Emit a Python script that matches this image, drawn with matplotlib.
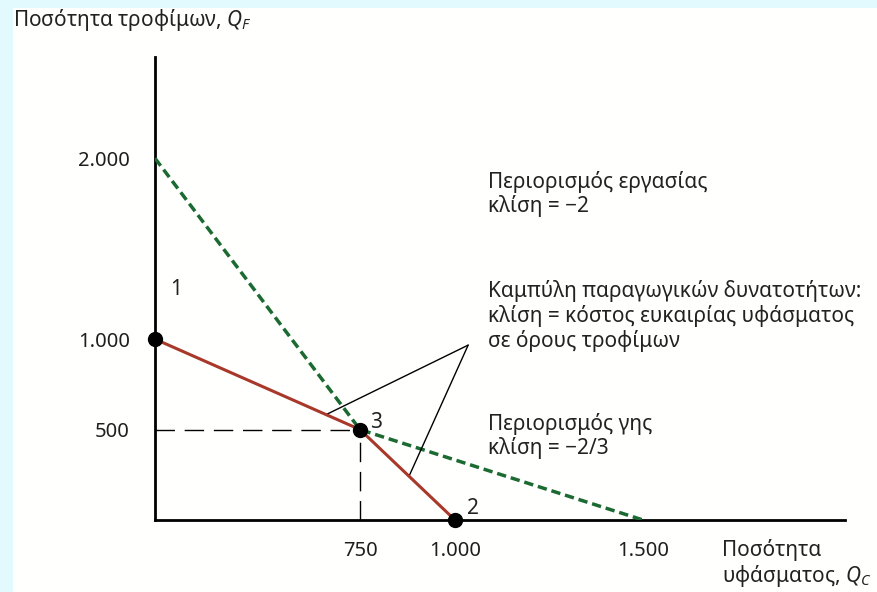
import numpy as np
import matplotlib
matplotlib.use('Agg')
import matplotlib.pyplot as plt
from matplotlib.patches import Rectangle

plt.rcParams['font.family'] = ['Noto Sans', 'DejaVu Sans']
plt.rcParams['mathtext.fontset'] = 'custom'
plt.rcParams['mathtext.rm'] = 'Noto Sans'
plt.rcParams['mathtext.it'] = 'Noto Sans:italic'

# data
ppf_x = [0, 750, 1000]          # red: production possibility frontier
ppf_y = [1000, 500, 0]
green_x = [0, 750, 1500]        # dashed green: labour then land constraint
green_y = [2000, 500, 0]
points_x = [0, 1000, 750]
points_y = [1000, 0, 500]
point_labels = ['1', '2', '3']
xticks = [750, 1000, 1500]
xticklabels = ['750', '1.000', '1.500']
yticks = [500, 1000, 2000]
yticklabels = ['500', '1.000', '2.000']

# schematic (non-uniform) horizontal scale of the original drawing
knots_d = [0, 750, 1000, 1500, 2040]
knots_p = [0, 205, 300, 488, 690]
fwd = lambda v: np.interp(v, knots_d, knots_p)
inv = lambda v: np.interp(v, knots_p, knots_d)

W, H = 877, 592
FS = 15
fig = plt.figure(figsize=(W / 100, H / 100), dpi=100, facecolor='#e2f9fd')
fig.patches.append(Rectangle((13 / W, 0), 1, 1 - 8 / H, transform=fig.transFigure,
                             facecolor='#fffffd', edgecolor='none', zorder=-5))
ax = fig.add_axes([155 / W, 72 / H, 690 / W, 463 / H])
ax.set_facecolor('none')
ax.set_xscale('function', functions=(fwd, inv))
ax.set_xlim(0, 2040)
ax.set_ylim(0, 2560)

for s in ['top', 'right']:
    ax.spines[s].set_visible(False)
for s in ['left', 'bottom']:
    ax.spines[s].set_linewidth(2)
    ax.spines[s].set_color('black')

ax.set_xticks(xticks)
ax.set_xticklabels(xticklabels)
ax.set_yticks(yticks)
ax.set_yticklabels(yticklabels)
ax.xaxis.set_minor_locator(matplotlib.ticker.NullLocator())
ax.tick_params(axis='both', length=0, labelsize=14.5, colors='#1e1e1e')
ax.tick_params(axis='x', pad=15)
ax.tick_params(axis='y', pad=18)

# reference lines to point 3
ax.plot([0, 750], [500, 500], color='black', lw=1, dashes=(14, 7), zorder=2)
ax.plot([750, 750], [0, 500], color='black', lw=1, dashes=(14, 7), zorder=2)

ax.plot(green_x, green_y, color='#1b6a32', lw=2.5, dashes=(2.7, 1.4), zorder=3)
ax.plot(ppf_x, ppf_y, color='#a8382a', lw=2.2, zorder=4)
ax.plot(points_x, points_y, 'o', color='black', ms=10, zorder=6, clip_on=False)

offsets = [(15, 35.5), (13, 8.6), (11.5, 5)]
for x, y, lab, off in zip(points_x, points_y, point_labels, offsets):
    ax.annotate(lab, (x, y), xytext=off, textcoords='offset points',
                fontsize=FS, color='#222222', va='center', ha='center')

# pointer lines from the PPF label
apex = (1035, 967)
for px in [626, 879]:
    py = np.interp(px, ppf_x, ppf_y)
    ax.annotate('', xy=(px, py), xytext=apex,
                arrowprops=dict(arrowstyle='-', color='black', lw=1, shrinkA=0, shrinkB=0))

tk = dict(fontsize=FS, color='#222222', ha='left', va='center', linespacing=1.15)
fig.text(488 / W, 1 - 194 / H, 'Περιορισμός εργασίας\nκλίση = −2', **tk)
fig.text(488 / W, 1 - 316 / H, 'Καμπύλη παραγωγικών δυνατοτήτων:\nκλίση = κόστος ευκαιρίας υφάσματος\nσε όρους τροφίμων', **tk)
fig.text(488 / W, 1 - 436 / H, 'Περιορισμός γης\nκλίση = −2/3', **tk)
fig.text(13 / W, 1 - 20 / H, 'Ποσότητα τροφίμων, $Q_F$', **tk)
fig.text(722 / W, 1 - 564 / H, 'Ποσότητα\nυφάσματος, $Q_C$', **tk)

fig.savefig('out.png', dpi=100, facecolor=fig.get_facecolor())
